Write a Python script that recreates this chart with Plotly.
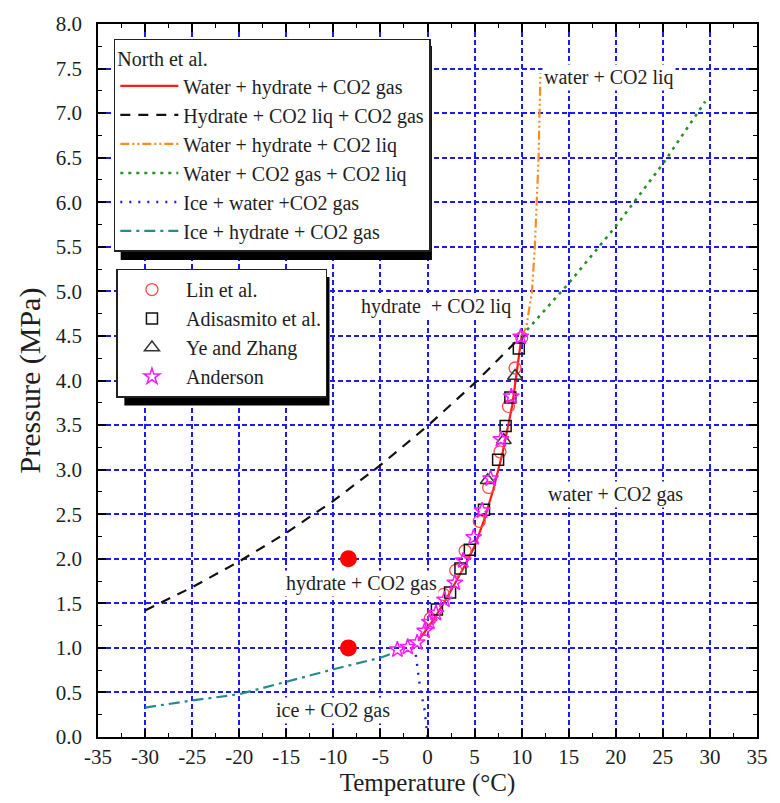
import plotly.graph_objects as go

# ---------------- data ----------------
# North et al. phase boundaries
whg_T = [-1.0, 0.0, 1.0, 2.0, 3.0, 4.0, 5.0, 6.0, 7.0, 8.0, 9.0, 10.0]
whg_P = [1.08, 1.22, 1.38, 1.55, 1.74, 1.93, 2.14, 2.43, 2.78, 3.20, 3.72, 4.50]

hlg_T = [-30, -25, -20, -15, -10, -5, 0, 5, 10]
hlg_P = [1.42, 1.68, 1.97, 2.29, 2.65, 3.05, 3.49, 3.97, 4.50]

whl_T = [10.0, 10.5, 10.8, 11.1, 11.4, 11.6, 11.8, 11.9, 12.0]
whl_P = [4.50, 4.60, 4.80, 5.00, 5.50, 6.00, 6.50, 7.00, 7.45]

wgl_T = [10, 15, 20, 25, 29.5]
wgl_P = [4.50, 5.09, 5.73, 6.43, 7.13]

iwg_T = [0.0, -0.3, -0.8, -1.1, -1.3]
iwg_P = [0.00, 0.30, 0.56, 0.80, 0.97]

ihg_T = [-30, -25, -20, -15, -10, -5, -3.7]
ihg_P = [0.33, 0.41, 0.48, 0.62, 0.76, 0.89, 0.94]

# experimental data
lin_T = [0.3, 1.7, 3.0, 4.0, 5.5, 6.5, 7.7, 8.6, 9.3, 10.0]
lin_P = [1.33, 1.60, 1.87, 2.09, 2.42, 2.80, 3.20, 3.71, 4.14, 4.48]

adi_T = [1.0, 2.4, 3.5, 4.5, 6.0, 7.5, 8.3, 8.8, 9.7]
adi_P = [1.43, 1.62, 1.89, 2.10, 2.55, 3.11, 3.49, 3.81, 4.36]

ye_T = [6.4, 8.1, 9.3]
ye_P = [2.88, 3.33, 4.05]

and_T = [-3.2, -2.1, -1.1, -0.3, 0.2, 0.9, 1.8, 2.9, 3.8, 4.9, 5.8, 6.7, 7.8, 8.9, 9.9]
and_P = [0.98, 1.01, 1.06, 1.19, 1.29, 1.39, 1.54, 1.73, 1.98, 2.24, 2.54, 2.90, 3.34, 3.82, 4.49]

# operating points (red dots)
op_T = [-8.4, -8.4]
op_P = [2.0, 1.0]

# region labels
region_text = ["water + CO2 liq", "hydrate  + CO2 liq", "water + CO2 gas",
               "hydrate + CO2 gas", "ice + CO2 gas"]
region_T = [19.3, 0.9, 20.0, -7.0, -10.0]
region_P = [7.40, 4.83, 2.72, 1.72, 0.30]

x_ticks = list(range(-35, 36, 5))
y_ticks = [i * 0.5 for i in range(17)]

FONT = "Liberation Serif, Times New Roman, serif"
TXT = "#1e1e1e"
fig = go.Figure()

line_specs = [
    (whg_T, whg_P, "Water + hydrate + CO2 gas", "#ff1a1a", "solid", 2.2),
    (hlg_T, hlg_P, "Hydrate + CO2 liq + CO2 gas", "#111111", "10px,8px", 2.2),
    (whl_T, whl_P, "Water + hydrate + CO2 liq", "#ff8a1e", "9px,3px,2px,3px,2px,3px", 2.2),
    (wgl_T, wgl_P, "Water + CO2 gas + CO2 liq", "#2a8f2a", "3px,5px", 2.6),
    (iwg_T, iwg_P, "Ice + water +CO2 gas", "#1a1aff", "2px,7px", 2.4),
    (ihg_T, ihg_P, "Ice + hydrate + CO2 gas", "#278a8a", "11px,5px,3px,5px", 2.2),
]
for T, P, name, col, dash, w in line_specs:
    fig.add_trace(go.Scatter(x=T, y=P, mode="lines", name=name,
                             line=dict(color=col, dash=dash, width=w),
                             legend="legend"))

marker_specs = [
    (lin_T, lin_P, "Lin et al.", "circle-open", "#ff4a4a", 12, 1.3),
    (adi_T, adi_P, "Adisasmito et al.", "square-open", "#111111", 11, 1.5),
    (ye_T, ye_P, "Ye and Zhang", "triangle-up-open", "#333333", 13, 1.5),
    (and_T, and_P, "Anderson", "star-open", "#ff1aff", 12, 1.5),
]
for T, P, name, sym, col, sz, lw in marker_specs:
    fig.add_trace(go.Scatter(x=T, y=P, mode="markers", name=name,
                             marker=dict(symbol=sym, color=col, size=sz,
                                         line=dict(color=col, width=lw)),
                             legend="legend2"))

fig.add_trace(go.Scatter(x=op_T, y=op_P, mode="markers", showlegend=False,
                         marker=dict(color="#ff0000", size=17)))

for t, x, y in zip(region_text, region_T, region_P):
    fig.add_annotation(x=x, y=y, text=t, showarrow=False,
                       font=dict(family=FONT, size=20, color=TXT),
                       bgcolor="white", borderpad=1)

def axis_style():
    return dict(
        showline=True, linecolor="black", linewidth=1.5, mirror="ticks",
        ticks="inside", ticklen=8, tickwidth=1.5, tickcolor="black",
        showgrid=True, gridcolor="#1c1cf0", gridwidth=1.7, griddash="5px,3px",
        zeroline=False,
        tickfont=dict(family=FONT, size=21, color=TXT),
    )

fig.update_xaxes(range=[-35, 35], tickmode="array", tickvals=x_ticks,
                 ticktext=[str(v) for v in x_ticks],
                 minor=dict(ticks="inside", ticklen=4, tickwidth=1.2,
                            tickcolor="black", dtick=2.5, showgrid=False),
                 title=dict(text="Temperature (°C)",
                            font=dict(family=FONT, size=25, color=TXT),
                            standoff=2),
                 **axis_style())
fig.update_yaxes(range=[0, 8], tickmode="array", tickvals=y_ticks,
                 ticktext=[f"{v:.1f}" for v in y_ticks],
                 ticklabelstandoff=10,
                 minor=dict(ticks="inside", ticklen=4, tickwidth=1.2,
                            tickcolor="black", dtick=0.25, showgrid=False),
                 title=dict(text="Pressure (MPa)",
                            font=dict(family=FONT, size=30, color=TXT),
                            standoff=6),
                 **axis_style())

# legend shadows (offset black boxes behind the legends)
fig.add_shape(type="rect", xref="paper", yref="paper",
              x0=0.0344, x1=0.5067, y0=0.669, y1=0.9693,
              fillcolor="black", line=dict(width=0), layer="above")
fig.add_shape(type="rect", xref="paper", yref="paper",
              x0=0.040, x1=0.3513, y0=0.465, y1=0.645,
              fillcolor="black", line=dict(width=0), layer="above")

fig.update_layout(
    width=780, height=803,
    margin=dict(l=98, r=13, t=21, b=66),
    plot_bgcolor="white", paper_bgcolor="white",
    font=dict(family=FONT, color=TXT),
    legend=dict(x=0.024, y=0.979, xanchor="left", yanchor="top",
                bgcolor="white", bordercolor="#222222", borderwidth=1.5,
                title=dict(text="North et al.", font=dict(family=FONT, size=20)),
                font=dict(family=FONT, size=20, color=TXT),
                tracegroupgap=0, itemwidth=58),
    legend2=dict(x=0.028, y=0.657, xanchor="left", yanchor="top",
                 bgcolor="white", bordercolor="#222222", borderwidth=1.5,
                 font=dict(family=FONT, size=20, color=TXT),
                 tracegroupgap=0, itemwidth=58),
)

fig.write_html("out.html")
